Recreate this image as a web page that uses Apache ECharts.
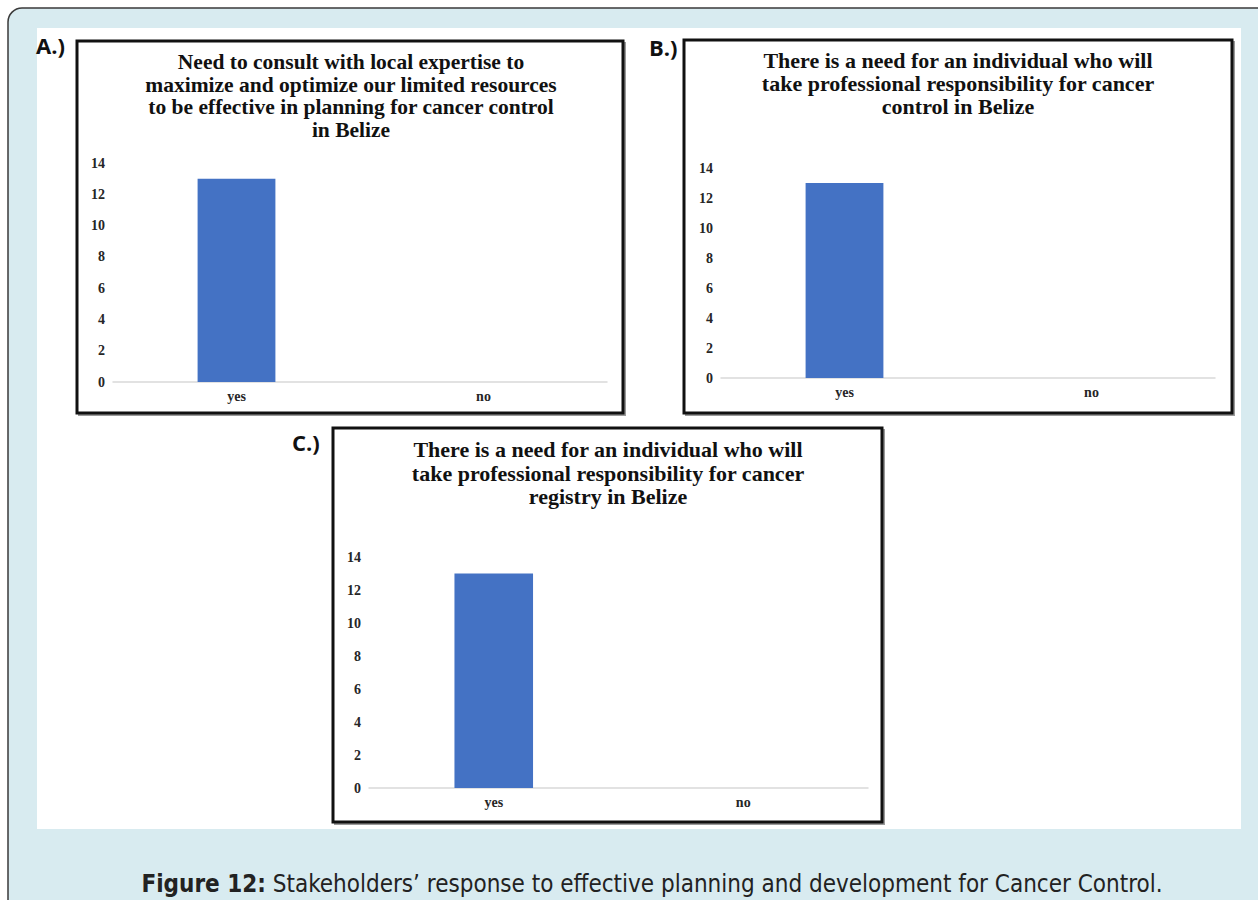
<!DOCTYPE html>
<html>
<head>
<meta charset="utf-8">
<title>Figure 12</title>
<script src="https://cdn.jsdelivr.net/npm/echarts@6/dist/echarts.min.js"></script>
<style>
  html, body { margin: 0; padding: 0; background: #ffffff; }
  #chart { width: 1258px; height: 900px; }
</style>
</head>
<body>
<div id="chart"></div>
<script>
// Survey answers (number of stakeholders) for the three questions
const categories = ['yes', 'no'];
const responsesA = [13, 0];
const responsesB = [13, 0];
const responsesC = [13, 0];

// Count axis: 0..14 in steps of 2
const yMin = 0;
const yMax = 14;
const yStep = 2;

const titleA = 'Need to consult with local expertise to\nmaximize and optimize our limited resources\nto be effective in planning for cancer control\nin Belize';
const titleB = 'There is a need for an individual who will\ntake professional responsibility for cancer\ncontrol in Belize';
const titleC = 'There is a need for an individual who will\ntake professional responsibility for cancer\nregistry in Belize';
const panelTags = ['A.)', 'B.)', 'C.)'];
const captionBold = 'Figure 12:';
const captionText = ' Stakeholders’ response to effective planning and development for Cancer Control.';

const SERIF = '"Liberation Serif", "Times New Roman", serif';
const BAR_BLUE = '#4472c4';

const chart = echarts.init(document.getElementById('chart'), null, { renderer: 'svg' });

// Layout of the three panels
const panels = [
  { frame: [77, 41, 546, 372], grid: { left: 113, top: 163, width: 494, height: 219 }, title: titleA, tx: 351, ty: 51, fs: 21.5, lh: 22.5, tag: [36, 45], data: responsesA },
  { frame: [684, 40, 548, 373], grid: { left: 721, top: 168, width: 494, height: 210 }, title: titleB, tx: 958, ty: 49, fs: 22, lh: 23, tag: [649, 47], data: responsesB },
  { frame: [333, 428, 549, 394], grid: { left: 369, top: 557, width: 499, height: 231 }, title: titleC, tx: 608, ty: 438, fs: 22, lh: 23.5, tag: [292, 442], data: responsesC }
];

const graphics = [
  // page frame with rounded corner
  { type: 'rect', z: -10, shape: { x: 8, y: 8, width: 1300, height: 950, r: 14 },
    style: { fill: '#d8ebf0', stroke: '#3a3a3a', lineWidth: 1.5 } },
  // white figure area
  { type: 'rect', z: -9, shape: { x: 37, y: 28, width: 1204, height: 801 },
    style: { fill: '#ffffff' } },
  // caption
  { type: 'text', z: 5, style: {
      x: 652, y: 884, align: 'center', verticalAlign: 'middle',
      rich: {
        b: { fontFamily: '"Liberation Sans Narrow", "DejaVu Sans Condensed", sans-serif', fontWeight: 'bold', fontSize: 24, fill: '#222' },
        n: { fontFamily: '"Liberation Sans Narrow", "DejaVu Sans Condensed", sans-serif', fontSize: 24, fill: '#222' }
      },
      text: '{b|' + captionBold + '}{n|' + captionText + '}'
  } }
];

panels.forEach((p, i) => {
  const [fx, fy, fw, fh] = p.frame;
  graphics.push(
    { type: 'rect', z: -8, shape: { x: fx + 2, y: fy + 2, width: fw, height: fh },
      style: { fill: 'none', stroke: '#9a9a9a', lineWidth: 2 } },
    { type: 'rect', z: -7, shape: { x: fx, y: fy, width: fw, height: fh },
      style: { fill: '#ffffff', stroke: '#111111', lineWidth: 3 } },
    { type: 'text', z: 5, style: {
        x: p.tx, y: p.ty, align: 'center', verticalAlign: 'top',
        text: p.title, fontFamily: SERIF, fontWeight: 'bold', fontSize: p.fs, lineHeight: p.lh, fill: '#111'
    } },
    { type: 'text', z: 5, style: {
        x: p.tag[0], y: p.tag[1], align: 'left', verticalAlign: 'middle',
        text: panelTags[i], fontFamily: '"Open Sans", "Liberation Sans", sans-serif', fontWeight: 'bold', fontSize: 22, fill: '#111'
    } }
  );
});

const option = {
  animation: false,
  backgroundColor: '#ffffff',
  graphic: graphics,
  grid: panels.map(p => Object.assign({ containLabel: false }, p.grid)),
  xAxis: panels.map((p, i) => ({
    type: 'category', gridIndex: i, data: categories,
    axisLine: { lineStyle: { color: '#d9d9d9', width: 1.5 } },
    axisTick: { show: false },
    axisLabel: { color: '#262626', fontFamily: SERIF, fontWeight: 'bold', fontSize: 14, margin: 7 }
  })),
  yAxis: panels.map((p, i) => ({
    type: 'value', gridIndex: i, min: yMin, max: yMax, interval: yStep,
    axisLine: { show: false }, axisTick: { show: false }, splitLine: { show: false },
    axisLabel: { color: '#262626', fontFamily: SERIF, fontWeight: 'bold', fontSize: 14, margin: 8 }
  })),
  series: panels.map((p, i) => ({
    type: 'bar', xAxisIndex: i, yAxisIndex: i, data: p.data,
    barWidth: '31.5%',
    itemStyle: { color: BAR_BLUE }
  }))
};

chart.setOption(option);
</script>
</body>
</html>
